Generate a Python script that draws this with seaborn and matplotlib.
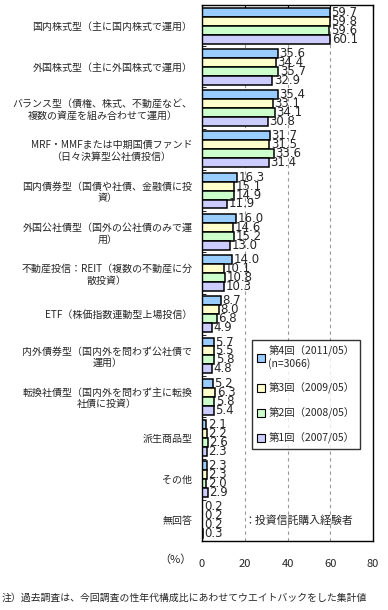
import matplotlib
matplotlib.use("Agg")
import matplotlib.pyplot as plt
import seaborn as sns
import pandas as pd
from matplotlib.patches import Patch

categories = [
    "国内株式型（主に国内株式で運用）",
    "外国株式型（主に外国株式で運用）",
    "バランス型（債権、株式、不動産など、\n複数の資産を組み合わせて運用）",
    "MRF・MMFまたは中期国債ファンド\n（日々決算型公社債投信）",
    "国内債券型（国債や社債、金融債に投\n資）",
    "外国公社債型（国外の公社債のみで運\n用）",
    "不動産投信：REIT（複数の不動産に分\n散投資）",
    "ETF（株価指数連動型上場投信）",
    "内外債券型（国内外を問わず公社債で\n運用）",
    "転換社債型（国内外を問わず主に転換\n社債に投資）",
    "派生商品型",
    "その他",
    "無回答",
]
rounds = ["第4回（2011/05）", "第3回（2009/05）", "第2回（2008/05）", "第1回（2007/05）"]
legend_labels = ["第4回（2011/05）\n(n=3066)", "第3回（2009/05）", "第2回（2008/05）", "第1回（2007/05）"]
r4 = [59.7, 35.6, 35.4, 31.7, 16.3, 16.0, 14.0, 8.7, 5.7, 5.2, 2.1, 2.3, 0.2]
r3 = [59.8, 34.4, 33.1, 31.5, 15.1, 14.6, 10.1, 8.0, 5.5, 6.3, 2.2, 2.3, 0.2]
r2 = [59.6, 35.7, 34.1, 33.6, 14.9, 15.2, 10.8, 6.8, 5.8, 5.8, 2.6, 2.0, 0.2]
r1 = [60.1, 32.9, 30.8, 31.4, 11.9, 13.0, 10.3, 4.9, 4.8, 5.4, 2.3, 2.9, 0.3]
colors = ["#99CCFF", "#FFFFCC", "#CCFFCC", "#CCCCFF"]
xticks = [0, 20, 40, 60, 80]

rows = []
for rnd, vals in zip(rounds, [r4, r3, r2, r1]):
    for c, v in zip(categories, vals):
        rows.append({"category": c, "round": rnd, "value": v})
df = pd.DataFrame(rows)

sns.set_style("white")
plt.rcParams["font.family"] = ["Noto Sans CJK JP", "DejaVu Sans"]

fig = plt.figure(figsize=(3.88, 6.10), dpi=100)
ax = fig.add_axes([202 / 388, 69 / 610, 171 / 388, 536 / 610])

sns.barplot(data=df, y="category", x="value", hue="round", order=categories,
            hue_order=rounds, palette=colors, orient="h", width=0.87,
            edgecolor="black", linewidth=1.1, legend=False, ax=ax, saturation=1)

for cont in ax.containers:
    ax.bar_label(cont, fmt="%.1f", padding=1, fontsize=8.5,
                 family=["Liberation Sans Narrow", "DejaVu Sans"])

ax.set_xlim(0, 80)
ax.set_ylim(len(categories) - 0.5, -0.5)
ax.set_xticks(xticks)
ax.set_xticklabels([str(t) for t in xticks], fontsize=8)
ax.grid(axis="x", linestyle=(0, (3, 3)), color="#999999", linewidth=0.8)
ax.grid(axis="y", visible=False)
ax.set_axisbelow(True)
ax.tick_params(axis="x", top=True, bottom=False, direction="in", length=3,
               labelbottom=True, pad=13, color="black")
ax.tick_params(axis="y", which="major", length=0, labelsize=7.2, pad=7)
ax.set_yticks([i + 0.5 for i in range(len(categories) - 1)], minor=True)
ax.tick_params(axis="y", which="minor", left=True, direction="in", length=3, color="black")
for lbl in ax.get_yticklabels():
    lbl.set_multialignment("center")
ax.set_xlabel("")
ax.set_ylabel("")
for sp in ax.spines.values():
    sp.set_visible(True)
    sp.set_color("black")
    sp.set_linewidth(1.0)

handles = [Patch(facecolor=c, edgecolor="black", linewidth=0.8) for c in colors]
leg = ax.legend(handles, legend_labels, loc="upper left",
                bbox_to_anchor=(0.29, 0.375), fontsize=7.5, frameon=True,
                fancybox=False, edgecolor="black", handlelength=0.8,
                handleheight=0.8, handletextpad=0.3, labelspacing=1.3,
                borderpad=0.5, borderaxespad=0)
leg.get_frame().set_linewidth(1.0)

fig.text(244 / 388, 1 - 521 / 610, "：投資信託購入経験者", fontsize=7.8,
         ha="left", va="center")

fig.text(192 / 388, 1 - 560 / 610, "（%）", fontsize=8, ha="right", va="center")
fig.text(2 / 388, 1 - 598 / 610,
         "注）過去調査は、今回調査の性年代構成比にあわせてウエイトバックをした集計値",
         fontsize=7.1, ha="left", va="center")

fig.savefig("out.png", dpi=100)
